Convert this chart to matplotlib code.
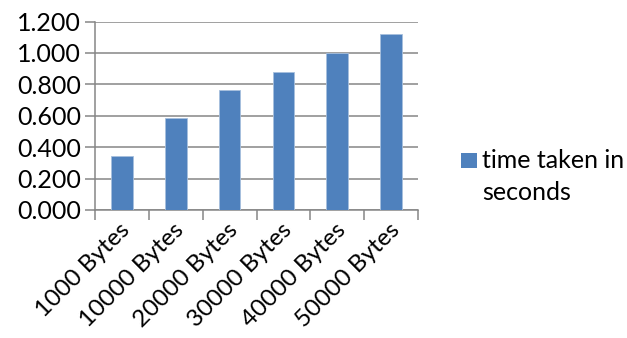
import matplotlib
matplotlib.use("Agg")
import matplotlib.pyplot as plt
import matplotlib.transforms as mtransforms
from matplotlib.patches import Rectangle
import numpy as np

categories = ["1000 Bytes", "10000 Bytes", "20000 Bytes", "30000 Bytes", "40000 Bytes", "50000 Bytes"]
seconds = [0.344, 0.588, 0.765, 0.881, 1.002, 1.119]
y_ticks = [0.0, 0.2, 0.4, 0.6, 0.8, 1.0, 1.2]
series_name = ["time taken in", "seconds"]

plt.rcParams["font.family"] = ["Lato", "DejaVu Sans"]
FS = 18
W, H = 627, 338

fig = plt.figure(figsize=(W / 100, H / 100), dpi=100)
ax = fig.add_axes([95 / W, 1 - 210 / H, (418 - 95) / W, (210 - 21.5) / H])

x = np.arange(len(categories))
bar_color = "#4f81bd"
bars = ax.bar(x, seconds, width=0.4, color=bar_color, edgecolor="#a7c0de", linewidth=0.6,
              zorder=3)

ax.set_xlim(-0.5, len(categories) - 0.5)
ax.set_ylim(0, 1.2)
ax.set_yticks(y_ticks)
ax.set_yticklabels([f"{v:.3f}" for v in y_ticks], fontsize=FS)
ax.yaxis.grid(True, color="#868686", linewidth=1.1, zorder=0)
ax.set_axisbelow(True)

# category boundaries carry the tick marks
ax.set_xticks(np.arange(-0.5, len(categories), 1.0))
ax.set_xticklabels([])
ax.set_xticks(x, minor=True)
ax.set_xticklabels(categories, minor=True, rotation=45, ha="right", va="center",
                   rotation_mode="anchor", fontsize=17.5)
ax.tick_params(axis="x", which="minor", length=0, pad=12)
ax.tick_params(axis="x", which="major", length=7, color="#868686", width=1.1, direction="out")
ax.tick_params(axis="y", length=7, color="#868686", width=1.1, pad=3)

shift = mtransforms.ScaledTranslation(5 / 100, 0, fig.dpi_scale_trans)
for lbl in ax.get_xticklabels(minor=True):
    lbl.set_transform(lbl.get_transform() + shift)

for side in ["top", "right"]:
    ax.spines[side].set_visible(False)
for side in ["left", "bottom"]:
    ax.spines[side].set_color("#868686")
    ax.spines[side].set_linewidth(1.1)

# legend: marker beside the first line of the series name
fig.patches.append(Rectangle((461 / W, 1 - 168 / H), 16 / W, 15 / H, transform=fig.transFigure,
                             facecolor=bar_color, edgecolor="none"))
fig.text(482 / W, 1 - 160 / H, series_name[0], fontsize=FS, va="center", ha="left")
fig.text(482 / W, 1 - 193 / H, series_name[1], fontsize=FS, va="center", ha="left")

fig.savefig("out.png", dpi=100)
